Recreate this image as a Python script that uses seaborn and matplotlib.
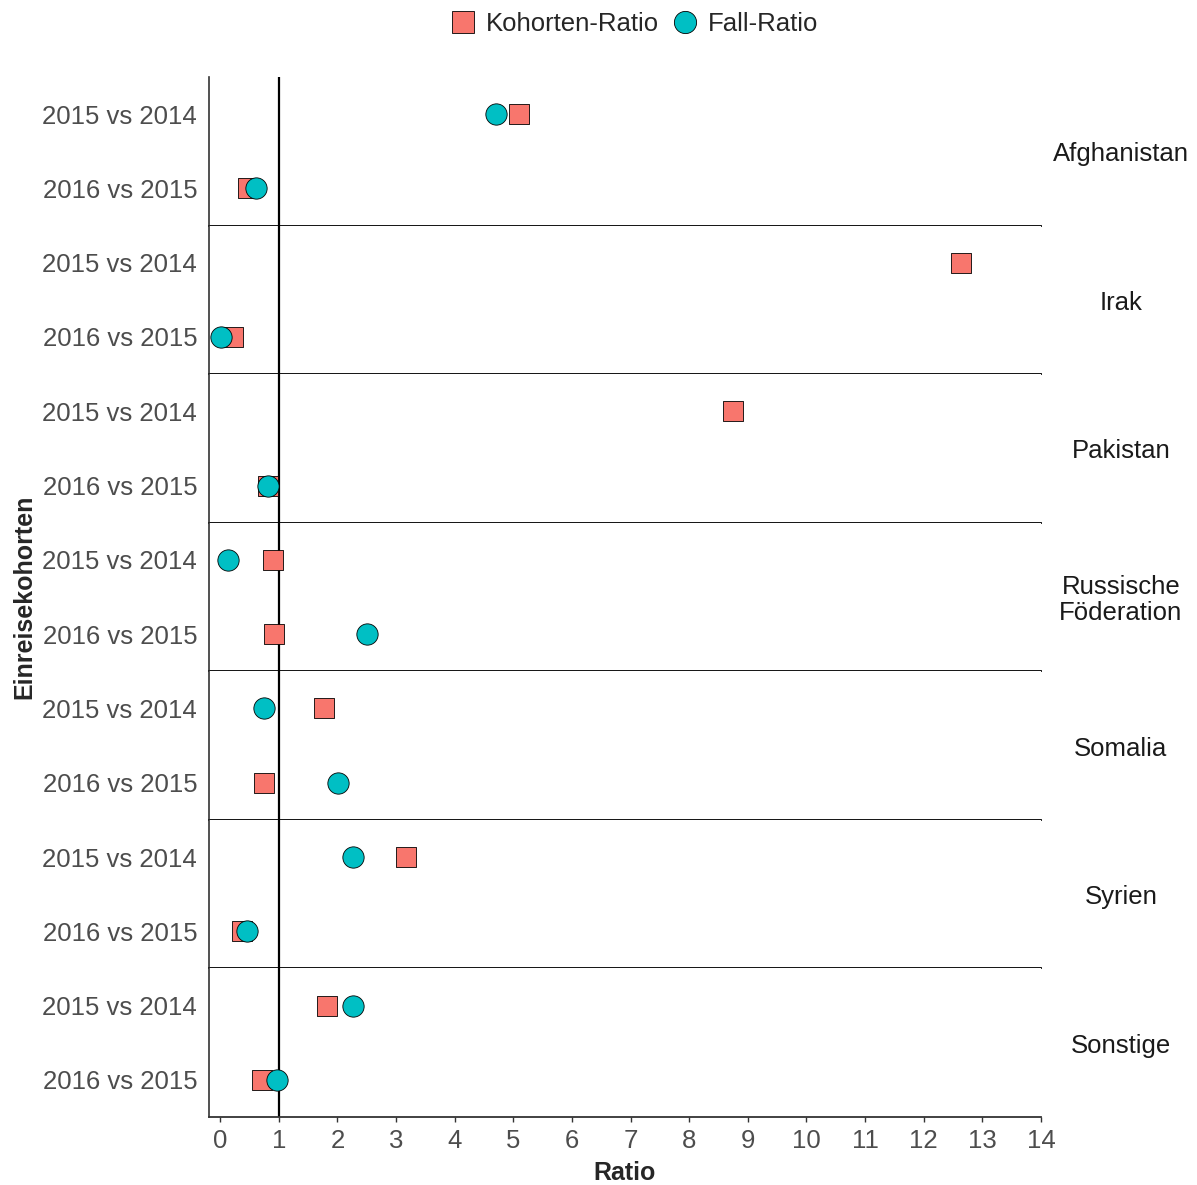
import numpy as np
import pandas as pd
import matplotlib
matplotlib.use("Agg")
import matplotlib.pyplot as plt
from matplotlib.lines import Line2D
import seaborn as sns

# Daten
laender = ['Afghanistan', 'Irak', 'Pakistan', 'Russische\nFöderation',
           'Somalia', 'Syrien', 'Sonstige']
kohorten = ['2015 vs 2014', '2016 vs 2015']
kohorten_ratio = [5.10, 0.47, 12.64, 0.22, 8.75, 0.82, 0.90, 0.92,
                  1.77, 0.74, 3.17, 0.37, 1.82, 0.72]
fall_ratio = [4.71, 0.61, np.nan, 0.01, np.nan, 0.81, 0.14, 2.50,
              0.75, 2.01, 2.26, 0.45, 2.26, 0.97]
x_ticks = list(range(0, 15))

rows = []
for i, land in enumerate(laender):
    for j, k in enumerate(kohorten):
        idx = i * 2 + j
        rows.append({'Land': land, 'Kohorte': k, 'Typ': 'Kohorten-Ratio', 'Ratio': kohorten_ratio[idx]})
        rows.append({'Land': land, 'Kohorte': k, 'Typ': 'Fall-Ratio', 'Ratio': fall_ratio[idx]})
df = pd.DataFrame(rows)

sns.set_theme(style="white")
plt.rcParams['font.family'] = ['Liberation Sans', 'DejaVu Sans']

farben = {'Kohorten-Ratio': '#F8766D', 'Fall-Ratio': '#00BFC4'}
W, H = 1197, 1185
fig = plt.figure(figsize=(W / 100, H / 100), dpi=100)
axes = fig.subplots(len(laender), 1, sharex=True)
fig.subplots_adjust(left=209 / W, right=1041 / W, top=1 - 77 / H,
                    bottom=1 - 1117 / H, hspace=0)

for i, (ax, land) in enumerate(zip(axes, laender)):
    d = df[df['Land'] == land]
    # Kategorien zuerst fixieren, damit die Reihenfolge stimmt
    ax.yaxis.update_units(kohorten)
    ax.axvline(1, color='black', lw=1.6, zorder=1)
    dk = d[d['Typ'] == 'Kohorten-Ratio'].dropna()
    df_ = d[d['Typ'] == 'Fall-Ratio'].dropna()
    sns.scatterplot(data=dk, x='Ratio', y='Kohorte', marker='s', s=200,
                    color=farben['Kohorten-Ratio'], edgecolor='black',
                    linewidth=0.6, ax=ax, zorder=3, legend=False)
    sns.scatterplot(data=df_, x='Ratio', y='Kohorte', marker='o', s=235,
                    color=farben['Fall-Ratio'], edgecolor='black',
                    linewidth=0.6, ax=ax, zorder=4, legend=False)
    ax.set_ylim(1.5, -0.5)
    ax.set_yticks([0, 1])
    ax.set_yticklabels(kohorten)
    ax.set_xlim(-0.19, 14)
    ax.set_xlabel('')
    ax.set_ylabel('')
    for s in ['top', 'right']:
        ax.spines[s].set_visible(False)
    ax.spines['left'].set_color('#333333')
    ax.spines['left'].set_linewidth(1.2)
    ax.spines['bottom'].set_color('black' if i < len(laender) - 1 else '#333333')
    ax.spines['bottom'].set_linewidth(1.3)
    ax.tick_params(axis='y', length=0, pad=8.5, labelsize=18.5, labelcolor='#4D4D4D')
    ax.tick_params(axis='x', length=3.6, width=1, color='#333333', pad=5,
                   labelsize=18.5, labelcolor='#4D4D4D', bottom=(i == len(laender) - 1))
    ax.text(1.096, 0.48, land, transform=ax.transAxes, ha='center', va='center',
            fontsize=18.5, color='#1A1A1A', linespacing=1.12)

axes[-1].set_xticks(x_ticks)
axes[-1].set_xticklabels([str(t) for t in x_ticks])

fig.text(625 / W, 1 - 1173 / H, 'Ratio', ha='center', va='center',
         fontsize=18, fontweight='bold')
fig.text(24 / W, 1 - 597 / H, 'Einreisekohorten', ha='center', va='center',
         rotation=90, fontsize=18, fontweight='bold')

handles = [
    Line2D([], [], marker='s', ls='', markersize=15.5, markerfacecolor=farben['Kohorten-Ratio'],
           markeredgecolor='black', markeredgewidth=0.6),
    Line2D([], [], marker='o', ls='', markersize=16, markerfacecolor=farben['Fall-Ratio'],
           markeredgecolor='black', markeredgewidth=0.6),
]
fig.legend(handles, ['Kohorten-Ratio', 'Fall-Ratio'], loc='center',
           bbox_to_anchor=(633 / W, 1 - 24 / H), ncol=2, frameon=False,
           fontsize=18.5, handletextpad=0.3, columnspacing=0.4, handlelength=1.2)

plt.savefig('out.png', dpi=100)
